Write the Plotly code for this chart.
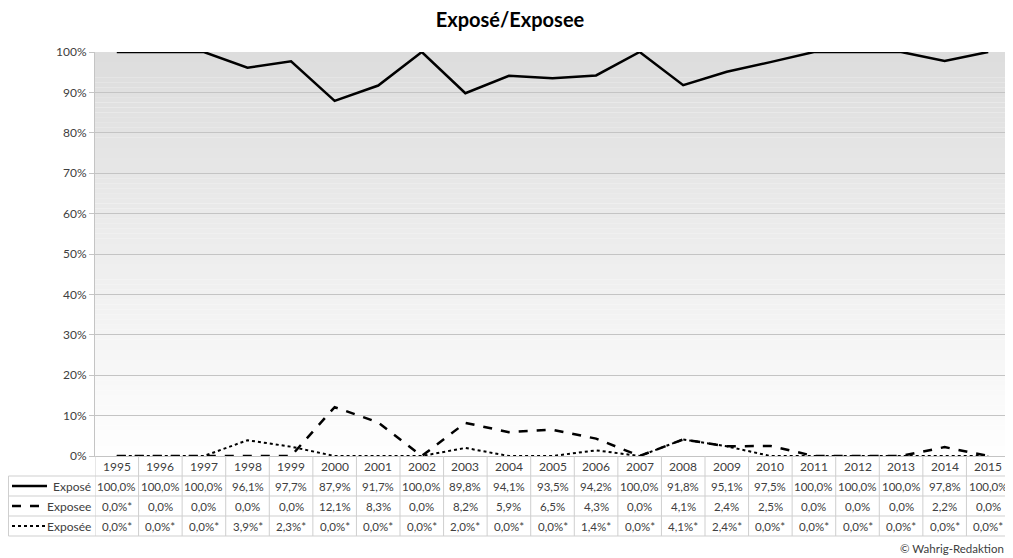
import plotly.graph_objects as go

years = [str(y) for y in range(1995, 2016)]
expose = [100.0, 100.0, 100.0, 96.1, 97.7, 87.9, 91.7, 100.0, 89.8, 94.1, 93.5,
          94.2, 100.0, 91.8, 95.1, 97.5, 100.0, 100.0, 100.0, 97.8, 100.0]
exposee = [0.0, 0.0, 0.0, 0.0, 0.0, 12.1, 8.3, 0.0, 8.2, 5.9, 6.5,
           4.3, 0.0, 4.1, 2.4, 2.5, 0.0, 0.0, 0.0, 2.2, 0.0]
exposee_acc = [0.0, 0.0, 0.0, 3.9, 2.3, 0.0, 0.0, 0.0, 2.0, 0.0, 0.0,
               1.4, 0.0, 4.1, 2.4, 0.0, 0.0, 0.0, 0.0, 0.0, 0.0]
exposee_star = [True] + [False] * 20
exposee_acc_star = [True] * 21

series = [
    ("Exposé", expose, [False] * 21, "solid", 2.5),
    ("Exposee", exposee, exposee_star, "dash", 2.5),
    ("Exposée", exposee_acc, exposee_acc_star, "dot", 2),
]

FONT = "Lato"
GRID = "#c4c4c4"
TBL = "#cfcfcf"
TXT = "#404040"

# the page has an 8px body margin, so the figure is 8px smaller than the window
W, H = 1005, 550


# helpers in window pixels (plot area: x 95..1010, y 52..456)
def px(x):
    return (x - 95) / 915


def py(y):
    return (456 - y) / 404


fig = go.Figure()
for name, vals, stars, dash, w in series:
    fig.add_trace(go.Scatter(x=years, y=[v / 100 for v in vals], mode="lines",
                             name=name, line=dict(color="black", width=w, dash=dash)))

shapes = []
# gradient background
n = 80
for i in range(n):
    t = i / n
    c = int(255 - (255 - 221) * (t + 0.5 / n))
    shapes.append(dict(type="rect", xref="paper", yref="paper", x0=0, x1=1,
                       y0=t, y1=(i + 1.02) / n, line=dict(width=0),
                       fillcolor=f"rgb({c},{c},{c})", layer="below"))

# table grid
row_lines = [476, 496, 516, 536]
for y in row_lines:
    shapes.append(dict(type="line", xref="paper", yref="paper", x0=px(8.5), x1=1,
                       y0=py(y), y1=py(y), line=dict(color=TBL, width=1)))
for i in range(len(years) + 1):
    shapes.append(dict(type="line", xref="x", yref="paper", x0=i - 0.5, x1=i - 0.5,
                       y0=0, y1=py(536), line=dict(color=TBL, width=1)))
shapes.append(dict(type="line", xref="paper", yref="paper", x0=px(8.5), x1=px(8.5),
                   y0=py(476), y1=py(536), line=dict(color=TBL, width=1)))

annotations = []
for i, yr in enumerate(years):
    annotations.append(dict(x=i, y=py(466), xref="x", yref="paper", text=yr,
                            yanchor="middle", showarrow=False,
                            font=dict(family=FONT, size=12, color=TXT)))

row_centers = [486, 506, 526]
for (name, vals, stars, dash, w), yc in zip(series, row_centers):
    shapes.append(dict(type="line", xref="paper", yref="paper", x0=px(12), x1=px(47),
                       y0=py(yc), y1=py(yc), line=dict(color="black", width=w, dash=dash)))
    annotations.append(dict(x=px(93), y=py(yc), xref="paper", yref="paper", text=name,
                            showarrow=False, xanchor="right", yanchor="middle",
                            font=dict(family=FONT, size=12, color=TXT)))
    for i, (v, s) in enumerate(zip(vals, stars)):
        label = f"{v:.1f}".replace(".", ",") + "%" + ("*" if s else "")
        annotations.append(dict(x=i, y=py(yc), xref="x", yref="paper", text=label,
                                showarrow=False, yanchor="middle",
                                font=dict(family=FONT, size=11.5, color=TXT)))

annotations.append(dict(x=px(1006), y=py(548), xref="paper", yref="paper",
                        text="© Wahrig-Redaktion", showarrow=False,
                        xanchor="right", yanchor="middle",
                        font=dict(family=FONT, size=11.5, color=TXT)))

fig.update_layout(
    width=W, height=H,
    margin=dict(l=87, r=3, t=44, b=102, autoexpand=False),
    paper_bgcolor="white", plot_bgcolor="white",
    showlegend=False,
    title=dict(text="<b>Exposé/Exposee</b>", x=(510 - 8) / W, xanchor="center",
               y=1 - 12 / H, yanchor="middle",
               font=dict(family=FONT, size=20, color="black")),
    xaxis=dict(type="category", range=[-0.5, 20.5], showticklabels=False,
               showgrid=False, showline=True, linecolor=GRID, ticks="", zeroline=False),
    yaxis=dict(range=[0, 1], tickvals=[i / 10 for i in range(11)],
               ticktext=[f"{i * 10}%" for i in range(11)],
               showgrid=True, gridcolor=GRID, gridwidth=1, showline=True,
               linecolor=GRID, ticks="outside", ticklen=5, tickcolor=GRID,
               zeroline=False, tickfont=dict(family=FONT, size=12, color=TXT)),
    shapes=shapes, annotations=annotations,
)

fig.write_html("out.html")
